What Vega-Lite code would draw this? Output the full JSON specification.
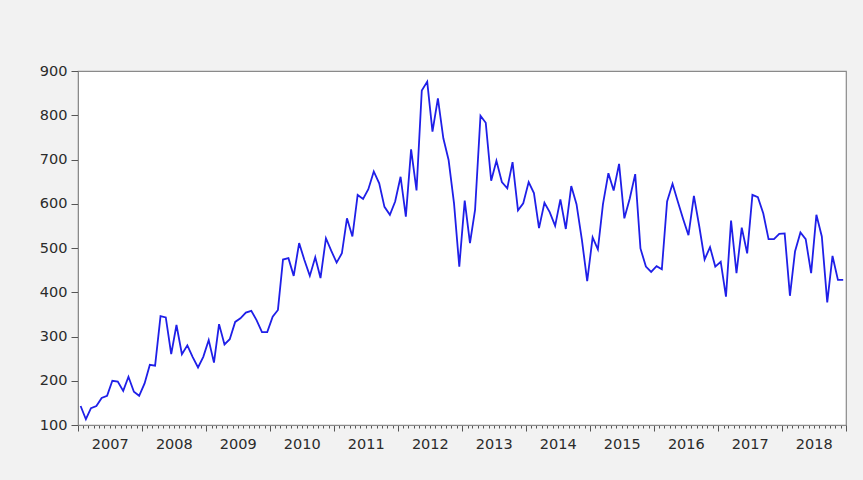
{
  "$schema": "https://vega.github.io/schema/vega-lite/v6.json",
  "width": 768,
  "height": 354,
  "autosize": {"type": "none"},
  "padding": {"left": 78, "top": 71, "right": 17, "bottom": 55},
  "background": "#f2f2f2",
  "config": {
    "view": {"fill": "#ffffff", "stroke": "#8a8a8a", "strokeWidth": 1.2},
    "axis": {"labelFont": "DejaVu Sans", "labelFontSize": 14.5, "labelColor": "#2b2b2b", "domainColor": "#8a8a8a", "tickColor": "#555555", "grid": false, "title": null}
  },
  "data": {"values": [
    {"date":"2007-01-16","value":143},{"date":"2007-02-15","value":113},{"date":"2007-03-16","value":138},{"date":"2007-04-16","value":143},{"date":"2007-05-16","value":161},{"date":"2007-06-16","value":166},{"date":"2007-07-16","value":200},{"date":"2007-08-16","value":198},{"date":"2007-09-16","value":177},{"date":"2007-10-16","value":209},{"date":"2007-11-16","value":175},{"date":"2007-12-16","value":166},
    {"date":"2008-01-16","value":194},{"date":"2008-02-15","value":236},{"date":"2008-03-16","value":234},{"date":"2008-04-16","value":346},{"date":"2008-05-16","value":343},{"date":"2008-06-16","value":260},{"date":"2008-07-16","value":326},{"date":"2008-08-16","value":260},{"date":"2008-09-16","value":280},{"date":"2008-10-16","value":254},{"date":"2008-11-16","value":230},{"date":"2008-12-16","value":254},
    {"date":"2009-01-16","value":292},{"date":"2009-02-15","value":241},{"date":"2009-03-16","value":328},{"date":"2009-04-16","value":282},{"date":"2009-05-16","value":294},{"date":"2009-06-16","value":333},{"date":"2009-07-16","value":341},{"date":"2009-08-16","value":354},{"date":"2009-09-16","value":358},{"date":"2009-10-16","value":337},{"date":"2009-11-16","value":310},{"date":"2009-12-16","value":310},
    {"date":"2010-01-16","value":345},{"date":"2010-02-15","value":360},{"date":"2010-03-16","value":474},{"date":"2010-04-16","value":477},{"date":"2010-05-16","value":437},{"date":"2010-06-16","value":511},{"date":"2010-07-16","value":473},{"date":"2010-08-16","value":437},{"date":"2010-09-16","value":479},{"date":"2010-10-16","value":432},{"date":"2010-11-16","value":522},{"date":"2010-12-16","value":494},
    {"date":"2011-01-16","value":467},{"date":"2011-02-15","value":488},{"date":"2011-03-16","value":567},{"date":"2011-04-16","value":526},{"date":"2011-05-16","value":620},{"date":"2011-06-16","value":611},{"date":"2011-07-16","value":633},{"date":"2011-08-16","value":673},{"date":"2011-09-16","value":646},{"date":"2011-10-16","value":593},{"date":"2011-11-16","value":575},{"date":"2011-12-16","value":605},
    {"date":"2012-01-16","value":661},{"date":"2012-02-15","value":571},{"date":"2012-03-16","value":723},{"date":"2012-04-16","value":630},{"date":"2012-05-16","value":856},{"date":"2012-06-16","value":876},{"date":"2012-07-16","value":763},{"date":"2012-08-16","value":838},{"date":"2012-09-16","value":748},{"date":"2012-10-16","value":699},{"date":"2012-11-16","value":601},{"date":"2012-12-16","value":458},
    {"date":"2013-01-16","value":607},{"date":"2013-02-15","value":511},{"date":"2013-03-16","value":586},{"date":"2013-04-16","value":799},{"date":"2013-05-16","value":783},{"date":"2013-06-16","value":652},{"date":"2013-07-16","value":697},{"date":"2013-08-16","value":649},{"date":"2013-09-16","value":635},{"date":"2013-10-16","value":694},{"date":"2013-11-16","value":585},{"date":"2013-12-16","value":601},
    {"date":"2014-01-16","value":649},{"date":"2014-02-15","value":624},{"date":"2014-03-16","value":545},{"date":"2014-04-16","value":602},{"date":"2014-05-16","value":581},{"date":"2014-06-16","value":550},{"date":"2014-07-16","value":610},{"date":"2014-08-16","value":543},{"date":"2014-09-16","value":640},{"date":"2014-10-16","value":599},{"date":"2014-11-16","value":518},{"date":"2014-12-16","value":425},
    {"date":"2015-01-16","value":524},{"date":"2015-02-15","value":497},{"date":"2015-03-16","value":599},{"date":"2015-04-16","value":669},{"date":"2015-05-16","value":630},{"date":"2015-06-16","value":690},{"date":"2015-07-16","value":567},{"date":"2015-08-16","value":612},{"date":"2015-09-16","value":667},{"date":"2015-10-16","value":499},{"date":"2015-11-16","value":458},{"date":"2015-12-16","value":446},
    {"date":"2016-01-16","value":459},{"date":"2016-02-15","value":452},{"date":"2016-03-16","value":605},{"date":"2016-04-16","value":645},{"date":"2016-05-16","value":605},{"date":"2016-06-16","value":565},{"date":"2016-07-16","value":529},{"date":"2016-08-16","value":618},{"date":"2016-09-16","value":548},{"date":"2016-10-16","value":474},{"date":"2016-11-16","value":502},{"date":"2016-12-16","value":458},
    {"date":"2017-01-16","value":469},{"date":"2017-02-15","value":390},{"date":"2017-03-16","value":562},{"date":"2017-04-16","value":443},{"date":"2017-05-16","value":546},{"date":"2017-06-16","value":488},{"date":"2017-07-16","value":620},{"date":"2017-08-16","value":615},{"date":"2017-09-16","value":578},{"date":"2017-10-16","value":520},{"date":"2017-11-16","value":520},{"date":"2017-12-16","value":532},
    {"date":"2018-01-16","value":533},{"date":"2018-02-15","value":392},{"date":"2018-03-16","value":492},{"date":"2018-04-16","value":535},{"date":"2018-05-16","value":520},{"date":"2018-06-16","value":443},{"date":"2018-07-16","value":575},{"date":"2018-08-16","value":526},{"date":"2018-09-16","value":377},{"date":"2018-10-16","value":482},{"date":"2018-11-16","value":428},{"date":"2018-12-16","value":428}
  ]},
  "mark": {"type": "line", "color": "#1f1fe8", "strokeWidth": 1.8, "clip": true},
  "encoding": {
    "x": {
      "field": "date",
      "type": "temporal",
      "scale": {"type": "utc", "domain": [{"year": 2007, "month": 1, "date": 1, "utc": true}, {"year": 2019, "month": 1, "date": 1, "utc": true}], "nice": false},
      "axis": {
        "tickCount": {"interval": "month", "step": 1},
        "labelExpr": "utcmonth(datum.value) == 6 ? utcFormat(datum.value, '%Y') : ''",
        "labelOverlap": false,
        "labelFlush": false,
        "labelPadding": 9,
        "tickSize": {"condition": {"test": "utcmonth(datum.value) == 0", "value": 6}, "value": 3},
        "tickWidth": 1
      }
    },
    "y": {
      "field": "value",
      "type": "quantitative",
      "scale": {"domain": [100, 900], "nice": false, "zero": false},
      "axis": {"values": [100, 200, 300, 400, 500, 600, 700, 800, 900], "tickSize": 7, "labelPadding": 4}
    }
  }
}
